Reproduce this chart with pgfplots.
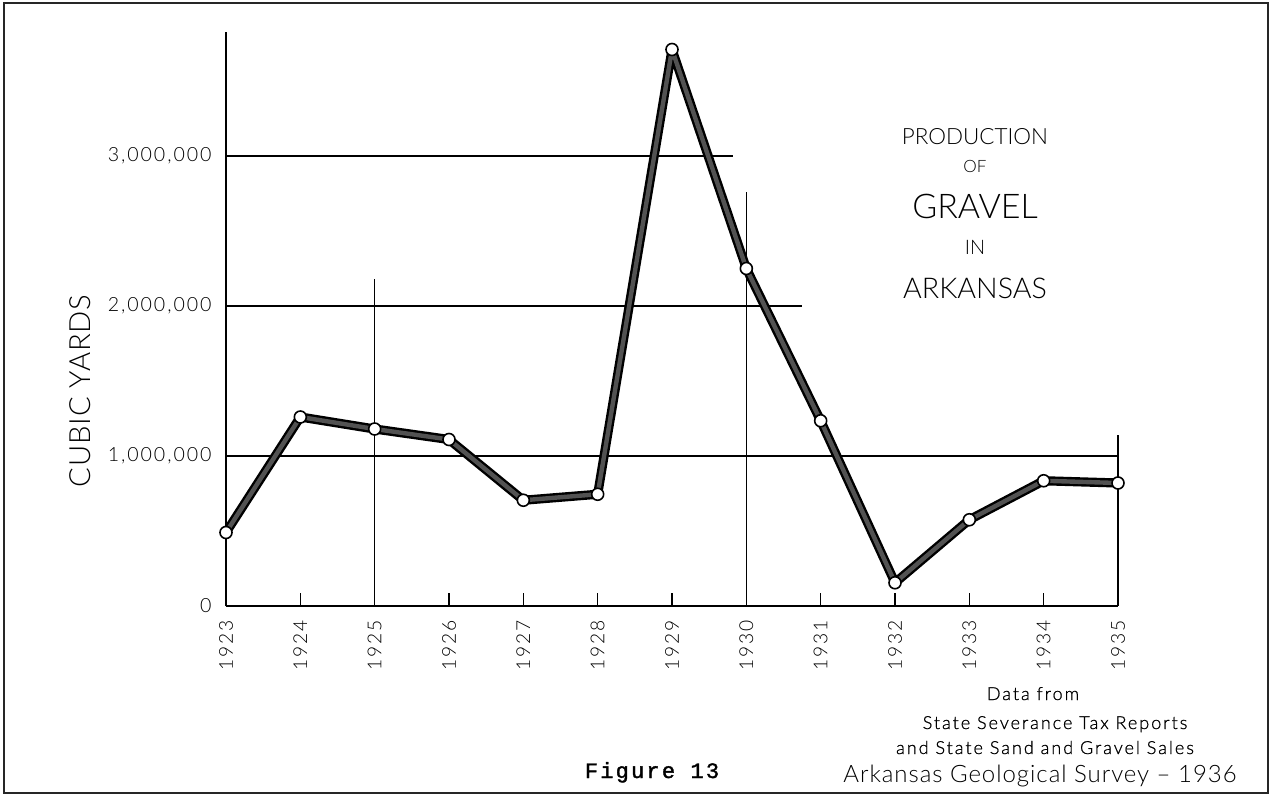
\documentclass[border=0pt]{standalone}
\usepackage{fontspec}
\usepackage{pgfplots}
\pgfplotsset{compat=1.18}
\setmainfont{Lato Light}
\newfontfamily\lab{Lato Light}[LetterSpace=10]
\newfontfamily\ylab{Lato Light}[LetterSpace=3]
\newfontfamily\spaced{Lato Light}[LetterSpace=11, FakeBold=0.8]
\newfontfamily\sig{Lato Light}[LetterSpace=4]
\newfontfamily\tw{Liberation Mono}[LetterSpace=10, FakeBold=1.5]
\begin{document}
\begin{tikzpicture}
\begin{scope}[x=0.5pt,y=-0.5pt]
\path[use as bounding box] (0,0) rectangle (1272,796);
\end{scope}
\begin{axis}[
  at={(113pt,-303pt)}, anchor=south west,
  scale only axis, width=446pt, height=287pt,
  xmin=1923, xmax=1935, ymin=0, ymax=3826667,
  axis x line=bottom, axis y line=left,
  axis line style={-, line width=0.9pt},
  clip=false,
  xtick={1923,1924,1925,1926,1927,1928,1929,1930,1931,1932,1933,1934,1935},
  xticklabels={1923,1924,1925,1926,1927,1928,1929,1930,1931,1932,1933,1934,1935},
  xticklabel style={rotate=90, anchor=east, inner sep=0pt, font=\lab\fontsize{9.6}{11}\selectfont},
  xticklabel shift=7pt,
  tick align=inside,
  major tick length=6.5pt,
  xtick style={line width=0.8pt, black},
  ytick={0,1000000,2000000,3000000},
  yticklabels={0,{1,000,000},{2,000,000},{3,000,000}},
  ytick style={draw=none},
  yticklabel style={anchor=east, inner sep=0pt, font=\lab\fontsize{9.8}{11}\selectfont},
  yticklabel shift=7pt,
  scaled y ticks=false,
]
\draw[line width=0.6pt] (axis cs:1923,1000000) -- (axis cs:1935,1000000);
\draw[line width=0.6pt] (axis cs:1923,2000000) -- (axis cs:1930.75,2000000);
\draw[line width=0.6pt] (axis cs:1923,3000000) -- (axis cs:1929.82,3000000);
\draw[line width=0.7pt] (axis cs:1925,0) -- (axis cs:1925,2180000);
\draw[line width=0.7pt] (axis cs:1930,0) -- (axis cs:1930,2760000);
\draw[line width=0.7pt] (axis cs:1935,0) -- (axis cs:1935,1140000);
\addplot[black, line width=4.6pt, line join=round, line cap=round] coordinates {
(1923,490000) (1924,1260000) (1925,1180000) (1926,1110000) (1927,705000)
(1928,745000) (1929,3710000) (1930,2250000) (1931,1235000) (1932,155000)
(1933,575000) (1934,835000) (1935,820000)};
\addplot[black!68, line width=2.2pt, line join=round, line cap=round] coordinates {
(1923,490000) (1924,1260000) (1925,1180000) (1926,1110000) (1927,705000)
(1928,745000) (1929,3710000) (1930,2250000) (1931,1235000) (1932,155000)
(1933,575000) (1934,835000) (1935,820000)};
\addplot[only marks, mark=*, mark size=3pt, mark options={fill=white, draw=black, line width=0.8pt}] coordinates {
(1923,490000) (1924,1260000) (1925,1180000) (1926,1110000) (1927,705000)
(1928,745000) (1929,3710000) (1930,2250000) (1931,1235000) (1932,155000)
(1933,575000) (1934,835000) (1935,820000)};
\end{axis}
\begin{scope}[x=0.5pt,y=-0.5pt]
\draw[line width=1.2pt, black!85] (4,3) rectangle (1268,793);
\node[rotate=90, font=\ylab\fontsize{14.6}{18}\selectfont] at (80,391) {CUBIC YARDS};
\node[font=\fontsize{11.2}{13}\selectfont] at (975,137) {PRODUCTION};
\node[font=\fontsize{8.5}{9}\selectfont] at (975,166) {OF};
\node[font=\fontsize{17}{19}\selectfont] at (975,206) {GRAVEL};
\node[font=\fontsize{10}{11}\selectfont] at (975,247) {IN};
\node[font=\fontsize{14.3}{17}\selectfont] at (975,288) {ARKANSAS};
\node[anchor=base, font=\spaced\fontsize{9}{10}\selectfont] at (1033,700) {Data from};
\node[anchor=base, font=\spaced\fontsize{9}{10}\selectfont] at (1055,729) {State Severance Tax Reports};
\node[anchor=base, font=\spaced\fontsize{9}{10}\selectfont] at (1045,754) {and State Sand and Gravel Sales};
\node[anchor=base, font=\tw\fontsize{11}{12}\selectfont] at (652,778) {Figure 13};
\node[anchor=base, font=\sig\fontsize{12}{14}\selectfont] at (1040,782) {Arkansas Geological Survey – 1936};
\end{scope}
\end{tikzpicture}
\end{document}
